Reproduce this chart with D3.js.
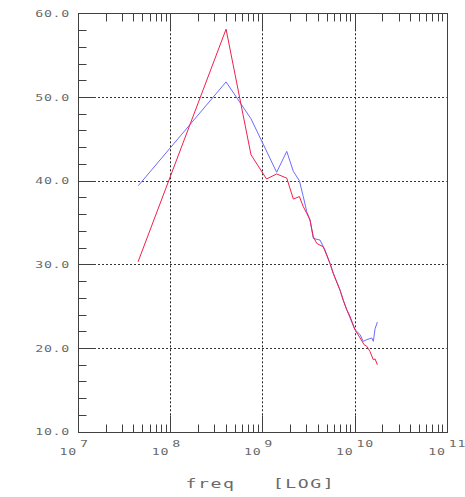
<!DOCTYPE html>
<html>
<head>
<meta charset="utf-8">
<script src="https://cdn.jsdelivr.net/npm/d3@7"></script>
<style>
  body { margin: 0; background: #fff; }
  svg { display: block; }
  text { font-family: "DejaVu Sans Mono", monospace; fill: #6a6a6a; }
</style>
</head>
<body>
<div id="chart"></div>
<script>
// red trace
var redFreq = [4.48e7, 4.04e8, 7.53e8, 1.11e9, 1.43e9, 1.84e9, 2.17e9, 2.52e9, 2.78e9, 3.03e9,
  3.29e9, 3.57e9, 3.89e9, 4.58e9, 4.99e9, 5.42e9, 5.89e9, 6.97e9, 7.55e9, 8.22e9,
  8.93e9, 1.01e10, 1.15e10, 1.27e10, 1.36e10, 1.47e10, 1.60e10, 1.67e10, 1.77e10];
var redVal = [30.3, 58.1, 43.1, 40.2, 40.8, 40.3, 37.8, 38.1, 36.9, 36.1,
  35.3, 33.3, 32.5, 32.1, 31.1, 30.1, 28.9, 26.9, 25.7, 24.6,
  23.8, 22.2, 21.2, 20.4, 20.2, 19.6, 18.6, 18.7, 18.0];
// blue trace
var blueFreq = [4.51e7, 4.04e8, 7.53e8, 1.43e9, 1.84e9, 2.17e9, 2.52e9, 2.78e9, 3.03e9, 3.29e9,
  3.57e9, 4.22e9, 4.79e9, 5.42e9, 5.89e9, 6.97e9, 7.55e9, 8.22e9, 8.93e9, 1.01e10,
  1.15e10, 1.24e10, 1.36e10, 1.54e10, 1.60e10, 1.67e10, 1.77e10];
var blueVal = [39.4, 51.8, 47.4, 41.0, 43.5, 41.1, 40.0, 38.1, 36.3, 35.3,
  33.1, 32.9, 31.7, 30.1, 28.9, 26.9, 25.7, 24.6, 23.6, 22.2,
  21.6, 20.8, 21.0, 21.2, 20.8, 22.3, 23.1];
// axes
var xDecades = [7, 8, 9, 10, 11];
var yTicks = [10, 20, 30, 40, 50, 60];
var yMinor = [12, 14, 16, 18, 22, 24, 26, 28, 32, 34, 36, 38, 42, 44, 46, 48, 52, 54, 56, 58];
var xLabel = 'freq   [LOG]';

var W = 465, H = 497;
var mLeft = 78, mRight = 446.7, mTop = 13.3, mBottom = 431.7;
var majorLen = 17, minorLen = 8;
var stretch = 1.4;   // wide plotter-style glyphs

var svg = d3.select('#chart').append('svg')
  .attr('width', W).attr('height', H);

var x = d3.scaleLog().domain([1e7, 1e11]).range([mLeft, mRight]);
var y = d3.scaleLinear().domain([10, 60]).range([mBottom, mTop]);

function px(v) { return Math.round(v) + 0.5; }
function at(tx, ty) { return 'translate(' + tx + ',' + ty + ') scale(' + stretch + ',1)'; }

var xMinor = [];
xDecades.slice(0, -1).forEach(function (e) {
  for (var k = 2; k <= 9; k++) xMinor.push(k * Math.pow(10, e));
});
var xInner = xDecades.slice(1, -1).map(function (e) { return Math.pow(10, e); });
var yInner = yTicks.slice(1, -1);

var grid = svg.append('g').attr('class', 'grid');
grid.selectAll('line.v').data(xInner).enter().append('line')
  .attr('x1', function (d) { return px(x(d)); }).attr('x2', function (d) { return px(x(d)); })
  .attr('y1', mTop).attr('y2', mBottom)
  .attr('stroke', '#222').attr('stroke-dasharray', '2,2');
grid.selectAll('line.h').data(yInner).enter().append('line')
  .attr('y1', function (d) { return px(y(d)); }).attr('y2', function (d) { return px(y(d)); })
  .attr('x1', mLeft).attr('x2', mRight)
  .attr('stroke', '#333').attr('stroke-dasharray', '2,2');

var ax = svg.append('g').attr('stroke', '#404040').attr('stroke-width', 1);
// frame
ax.append('rect')
  .attr('x', px(mLeft)).attr('y', px(mTop))
  .attr('width', Math.round(mRight) - Math.round(mLeft))
  .attr('height', Math.round(mBottom) - Math.round(mTop))
  .attr('fill', 'none');

// x ticks (top and bottom)
xMinor.forEach(function (d) {
  var xx = px(x(d));
  ax.append('line').attr('x1', xx).attr('x2', xx).attr('y1', px(mTop)).attr('y2', px(mTop) + minorLen);
  ax.append('line').attr('x1', xx).attr('x2', xx).attr('y1', px(mBottom)).attr('y2', px(mBottom) - minorLen);
});
xInner.forEach(function (d) {
  var xx = px(x(d));
  ax.append('line').attr('x1', xx).attr('x2', xx).attr('y1', px(mTop)).attr('y2', px(mTop) + majorLen);
  ax.append('line').attr('x1', xx).attr('x2', xx).attr('y1', px(mBottom)).attr('y2', px(mBottom) - majorLen);
});
// y ticks
yMinor.forEach(function (d) {
  var yy = px(y(d));
  ax.append('line').attr('x1', px(mLeft)).attr('x2', px(mLeft) + minorLen).attr('y1', yy).attr('y2', yy);
});
yInner.forEach(function (d) {
  var yy = px(y(d));
  ax.append('line').attr('x1', px(mLeft)).attr('x2', px(mLeft) + majorLen).attr('y1', yy).attr('y2', yy);
});

// y labels
svg.append('g').selectAll('text').data(yTicks).enter().append('text')
  .attr('transform', function (d) { return at(mLeft - 8, y(d) + 3.6); })
  .attr('text-anchor', 'end')
  .style('font-size', '9.5px').style('letter-spacing', '0.5px')
  .text(function (d) { return d3.format('.1f')(d); });

// x labels: 10 with superscript exponent
var xl = svg.append('g').selectAll('g').data(xDecades).enter().append('g')
  .attr('transform', function (d) { return 'translate(' + x(Math.pow(10, d)) + ',0)'; });
xl.append('text').attr('transform', at(-1, 455))
  .attr('text-anchor', 'end')
  .style('font-size', '9.5px').style('letter-spacing', '0.5px')
  .text('10');
xl.append('text').attr('transform', at(2, 447))
  .style('font-size', '9.5px').style('letter-spacing', '0.5px')
  .text(function (d) { return d; });

svg.append('text')
  .attr('transform', at((mLeft + mRight) / 2 - 2, 488))
  .attr('text-anchor', 'middle')
  .style('font-size', '13px').style('letter-spacing', '1.1px')
  .attr('xml:space', 'preserve')
  .text(xLabel);

var line = d3.line()
  .x(function (d) { return x(d[0]); })
  .y(function (d) { return y(d[1]); });

svg.append('path')
  .datum(d3.zip(blueFreq, blueVal))
  .attr('d', line)
  .attr('fill', 'none').attr('stroke', '#6c6cff').attr('stroke-width', 1);
svg.append('path')
  .datum(d3.zip(redFreq, redVal))
  .attr('d', line)
  .attr('fill', 'none').attr('stroke', '#f0204c').attr('stroke-width', 1);
</script>
</body>
</html>
